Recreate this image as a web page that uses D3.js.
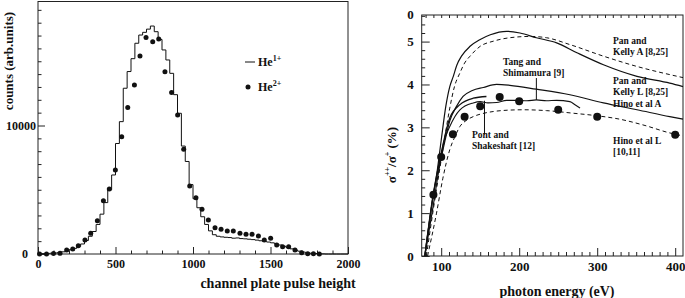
<!DOCTYPE html>
<html>
<head>
<meta charset="utf-8">
<script src="https://cdn.jsdelivr.net/npm/d3@7"></script>
<style>
  body { margin: 0; background: #fff; }
  svg text { font-family: "Liberation Serif", "Times New Roman", serif; font-weight: bold; fill: #111; }
</style>
</head>
<body>
<div id="chart"></div>
<script>
// ---- left panel: pulse height spectrum ----
const binWidth = 25;
// He1+ histogram counts, one per 25-channel bin starting at 0
const he1Counts = [
  20, 30, 40, 60, 80, 120, 170, 240, 330, 440,
  590, 780, 1050, 1380, 1750, 2300, 3100, 4000, 5000, 6150,
  8600, 10300, 12900, 14200, 15200, 16400, 17040, 17250, 17500, 17740,
  17300, 16700, 15880, 15100, 14060, 12400, 10950, 8400, 7200, 5400,
  4300, 3600, 2900, 2300, 1800, 1500, 1380, 1330, 1300, 1280,
  1230, 1250, 1200, 1180, 1150, 1120, 1080, 1030, 980, 930,
  870, 790, 700, 600, 500, 400, 300, 220, 150, 100,
  60, 40, 20, 10, 0, 0, 0, 0, 0, 0
];
// He2+ points
const he2X = [10, 55, 100, 142, 185, 224, 260, 303, 340, 383, 422, 460, 499,
  540, 579, 622, 658, 697, 740, 779, 819, 862, 901, 940, 979, 1019, 1058,
  1099, 1142, 1181, 1221, 1260, 1303, 1342, 1381, 1422, 1460, 1501, 1540,
  1578, 1617, 1658, 1701, 1740, 1777, 1815];
const he2Y = [0, 0, 30, 50, 310, 390, 650, 1090, 1610, 2590, 4150, 5060, 6540,
  9130, 11410, 13150, 15410, 16840, 16520, 16730, 14190, 12560, 10820, 8150, 5290, 4380, 3480,
  2650, 2050, 1920, 1790, 1790, 1610, 1530, 1530, 1400, 1090, 1220, 700,
  570, 570, 310, 100, 20, 20, 0];
const leftXTicks = [0, 500, 1000, 1500, 2000];
const leftYTicks = [0, 10000];

// ---- right panel: ratio of double to single photoionization ----
const expE = [90, 100, 115, 130, 150, 175, 200, 250, 300, 400];
const expRatio = [1.43, 2.31, 2.84, 3.25, 3.49, 3.71, 3.61, 3.41, 3.25, 2.83];

const panKellyA = [[79,0],[88,1.2],[95,2.0],[100,2.7],[106,3.5],[111,3.95],[115.5,4.19],[120,4.45],
  [126,4.66],[137,4.89],[150,5.05],[163,5.16],[184,5.24],[201,5.2],[222,5.09],[248,4.97],
  [274,4.74],[308,4.46],[351,4.19],[393,4.03],[410,3.95]];
const panKellyADash = [[81,0],[90,1.1],[97,1.9],[104,2.7],[111,3.45],[117,3.95],[124,4.27],[130,4.5],
  [137,4.66],[150,4.89],[167,5.01],[188,5.09],[214,5.12],[235,5.09],[265,4.93],[308,4.66],
  [351,4.42],[393,4.23],[410,4.16]];
const hinoA = [[79,0],[90,1.2],[97,2.0],[105,2.7],[111,3.15],[120,3.5],[128,3.72],[140,3.86],
  [154,3.93],[171,4.0],[188,3.98],[222,3.89],[265,3.76],[308,3.57],[351,3.41],[393,3.25],[410,3.19]];
const hinoL = [[82.5,0],[94,1.0],[102,1.8],[111,2.48],[118,2.8],[124,3.02],[132,3.16],[141,3.25],
  [155,3.33],[167,3.37],[185,3.4],[205,3.41],[235,3.39],[269,3.33],[300,3.27],[329,3.19],
  [360,3.05],[393,2.87],[410,2.8]];
const tangShimamura = [[79,0],[90,1.43],[100,2.35],[103,2.63],[111,3.02],[124,3.41],[141,3.57],
  [150,3.6],[160,3.57],[171,3.58],[184,3.63],[197,3.63],[210,3.62],[222,3.64],[235,3.62],
  [248,3.63],[265,3.6],[272,3.52],[278,3.45]];
const pontShakeshaft = [[79,0],[89,1.35],[100,2.4],[111,3.22],[124,3.53],[141,3.68],[158,3.72]];
const rightXTicks = [100, 200, 300, 400];
const rightYTicks = [0, 1, 2, 3, 4, 5];

const width = 685, height = 298;

const svg = d3.select("#chart")
  .append("svg")
  .attr("width", width)
  .attr("height", height)
  .attr("viewBox", `0 0 ${width} ${height}`);

// ================= left panel =================
const lx = d3.scaleLinear().domain([0, 2000]).range([38, 348]);
const ly = d3.scaleLinear().domain([0, 19650]).range([254, 1.5]);

const left = svg.append("g");

left.append("rect")
  .attr("x", lx(0)).attr("y", ly(19650))
  .attr("width", lx(2000) - lx(0)).attr("height", ly(0) - ly(19650))
  .attr("fill", "none").attr("stroke", "#222").attr("stroke-width", 1);

// bottom axis, ticks pointing in
const lxAxis = left.append("g")
  .attr("transform", `translate(0,${ly(0)})`)
  .call(d3.axisBottom(lx)
    .tickValues(d3.range(0, 2001, 100))
    .tickSize(-3.5).tickPadding(5)
    .tickFormat(d => leftXTicks.includes(d) ? d : ""));
lxAxis.select(".domain").remove();
lxAxis.selectAll(".tick line").attr("stroke", "#222")
  .filter(d => d % 500 === 0).attr("y2", -7);
lxAxis.selectAll("text").attr("font-size", 12).attr("fill", "#111");

// left axis
const lyAxis = left.append("g")
  .attr("transform", `translate(${lx(0)},0)`)
  .call(d3.axisLeft(ly)
    .tickValues(d3.range(0, 19001, 1000))
    .tickSize(-3.5).tickPadding(2)
    .tickFormat(d => leftYTicks.includes(d) ? d : ""));
lyAxis.select(".domain").remove();
lyAxis.selectAll(".tick line").attr("stroke", "#222")
  .filter(d => d % 10000 === 0).attr("x2", 7);
lyAxis.selectAll("text").attr("font-size", 12).attr("fill", "#111")
  .filter(d => d === 0).attr("dx", -8);

// histogram He1+
const histPts = he1Counts.map((c, i) => [i * binWidth, c]);
histPts.push([he1Counts.length * binWidth, he1Counts[he1Counts.length - 1]]);
left.append("path")
  .datum(histPts)
  .attr("fill", "none")
  .attr("stroke", "#111")
  .attr("stroke-width", 1)
  .attr("d", d3.line()
    .x(d => lx(d[0]))
    .y(d => ly(d[1]))
    .curve(d3.curveStepAfter));

// He2+ dots
left.append("g")
  .selectAll("circle")
  .data(he2X)
  .join("circle")
    .attr("cx", d => lx(d))
    .attr("cy", (d, i) => ly(he2Y[i]))
    .attr("r", 2.5)
    .attr("fill", "#111");

// legend
left.append("line")
  .attr("x1", 245).attr("x2", 255).attr("y1", 62).attr("y2", 62)
  .attr("stroke", "#111").attr("stroke-width", 1);
const lg1 = left.append("text").attr("x", 258).attr("y", 66).attr("font-size", 12);
lg1.append("tspan").text("He");
lg1.append("tspan").attr("font-size", 8).attr("dy", -5).text("1+");
left.append("circle").attr("cx", 248).attr("cy", 87).attr("r", 2.5).attr("fill", "#111");
const lg2 = left.append("text").attr("x", 258).attr("y", 91).attr("font-size", 12);
lg2.append("tspan").text("He");
lg2.append("tspan").attr("font-size", 8).attr("dy", -5).text("2+");

// axis titles
left.append("text")
  .attr("text-anchor", "middle")
  .attr("transform", "rotate(-90)")
  .attr("x", -61).attr("y", 13)
  .attr("font-size", 13)
  .text("counts (arb.units)");

left.append("text")
  .attr("text-anchor", "middle")
  .attr("x", 278).attr("y", 288)
  .attr("font-size", 14)
  .text("channel plate pulse height");

// ================= right panel =================
const rx = d3.scaleLinear().domain([75, 410]).range([421.7, 683]);
const ry = d3.scaleLinear().domain([0, 5.62]).range([256, 15]);

const right = svg.append("g");

right.append("rect")
  .attr("x", rx(75)).attr("y", ry(5.62))
  .attr("width", rx(410) - rx(75)).attr("height", ry(0) - ry(5.62))
  .attr("fill", "none").attr("stroke", "#222").attr("stroke-width", 1);

const eTicks = d3.range(80, 410, 10);

const rxAxis = right.append("g")
  .attr("transform", `translate(0,${ry(0)})`)
  .call(d3.axisBottom(rx)
    .tickValues(eTicks)
    .tickSize(-4).tickPadding(6)
    .tickFormat(d => rightXTicks.includes(d) ? d : ""));
rxAxis.select(".domain").remove();
rxAxis.selectAll(".tick line").attr("stroke", "#222")
  .filter(d => d % 100 === 0).attr("y2", -8);
rxAxis.selectAll("text").attr("font-size", 13).attr("fill", "#111");

// top ticks
const rxTop = right.append("g")
  .attr("transform", `translate(0,${ry(5.62)})`)
  .call(d3.axisTop(rx).tickValues(eTicks).tickSize(-3).tickFormat(""));
rxTop.select(".domain").remove();
rxTop.selectAll(".tick line").attr("stroke", "#222");

const ryAxis = right.append("g")
  .attr("transform", `translate(${rx(75)},0)`)
  .call(d3.axisLeft(ry)
    .tickValues(d3.range(0, 29).map(i => i * 0.2))
    .tickSize(-3.5).tickPadding(8)
    .tickFormat(d => Math.abs(d - Math.round(d)) < 1e-6 ? Math.round(d) : ""));
ryAxis.select(".domain").remove();
ryAxis.selectAll(".tick line").attr("stroke", "#222")
  .filter(d => Math.abs(d - Math.round(d)) < 1e-6).attr("x2", 8);
ryAxis.selectAll("text").attr("font-size", 13).attr("fill", "#111");

// the label at the top of the axis
right.append("text")
  .attr("x", rx(75) - 8).attr("y", ry(5.62)).attr("dy", "0.32em")
  .attr("text-anchor", "end").attr("font-size", 13)
  .text("0");

const curve = d3.line()
  .x(d => rx(d[0]))
  .y(d => ry(d[1]))
  .curve(d3.curveMonotoneX);

const theory = [
  {data: panKellyA, dash: null, w: 1.2},
  {data: panKellyADash, dash: "4,3", w: 1},
  {data: hinoA, dash: null, w: 1.2},
  {data: hinoL, dash: "4,3", w: 1},
  {data: tangShimamura, dash: null, w: 1.1},
  {data: pontShakeshaft, dash: null, w: 1.3}
];

right.append("g")
  .selectAll("path")
  .data(theory)
  .join("path")
    .attr("fill", "none")
    .attr("stroke", "#111")
    .attr("stroke-width", d => d.w)
    .attr("stroke-dasharray", d => d.dash)
    .attr("d", d => curve(d.data));

// experimental points
right.append("g")
  .selectAll("circle")
  .data(expE)
  .join("circle")
    .attr("cx", d => rx(d))
    .attr("cy", (d, i) => ry(expRatio[i]))
    .attr("r", 4)
    .attr("fill", "#111");

// leader lines
right.append("line")
  .attr("x1", rx(222)).attr("x2", rx(222))
  .attr("y1", ry(3.64)).attr("y2", ry(4.15))
  .attr("stroke", "#111").attr("stroke-width", 1);
right.append("line")
  .attr("x1", rx(155.5)).attr("x2", rx(155.5))
  .attr("y1", ry(3.62)).attr("y2", ry(2.83))
  .attr("stroke", "#111").attr("stroke-width", 1);

// annotations
const notes = [
  {x: 613, y: 44, t: "Pan and"},
  {x: 613, y: 54.5, t: "Kelly A [8,25]"},
  {x: 613, y: 84, t: "Pan and"},
  {x: 613, y: 94.5, t: "Kelly L [8,25]"},
  {x: 613, y: 107, t: "Hino et al A"},
  {x: 613, y: 144, t: "Hino et al L"},
  {x: 613, y: 154.5, t: "[10,11]"},
  {x: 503, y: 65, t: "Tang and"},
  {x: 503, y: 76, t: "Shimamura [9]"},
  {x: 472, y: 138, t: "Pont and"},
  {x: 472, y: 149, t: "Shakeshaft [12]"}
];
right.append("g")
  .selectAll("text")
  .data(notes)
  .join("text")
    .attr("x", d => d.x)
    .attr("y", d => d.y)
    .attr("font-size", 9.5)
    .text(d => d.t);

// axis titles
const ylab = right.append("text")
  .attr("text-anchor", "middle")
  .attr("transform", "rotate(-90)")
  .attr("x", -155).attr("y", 396)
  .attr("font-size", 13);
ylab.append("tspan").text("σ");
ylab.append("tspan").attr("font-size", 8).attr("dy", -6).text("++");
ylab.append("tspan").attr("dy", 6).text("/σ");
ylab.append("tspan").attr("font-size", 8).attr("dy", -6).text("+");
ylab.append("tspan").attr("dy", 6).text(" (%)");

right.append("text")
  .attr("text-anchor", "middle")
  .attr("x", 557).attr("y", 296)
  .attr("font-size", 14)
  .text("photon energy (eV)");
</script>
</body>
</html>
